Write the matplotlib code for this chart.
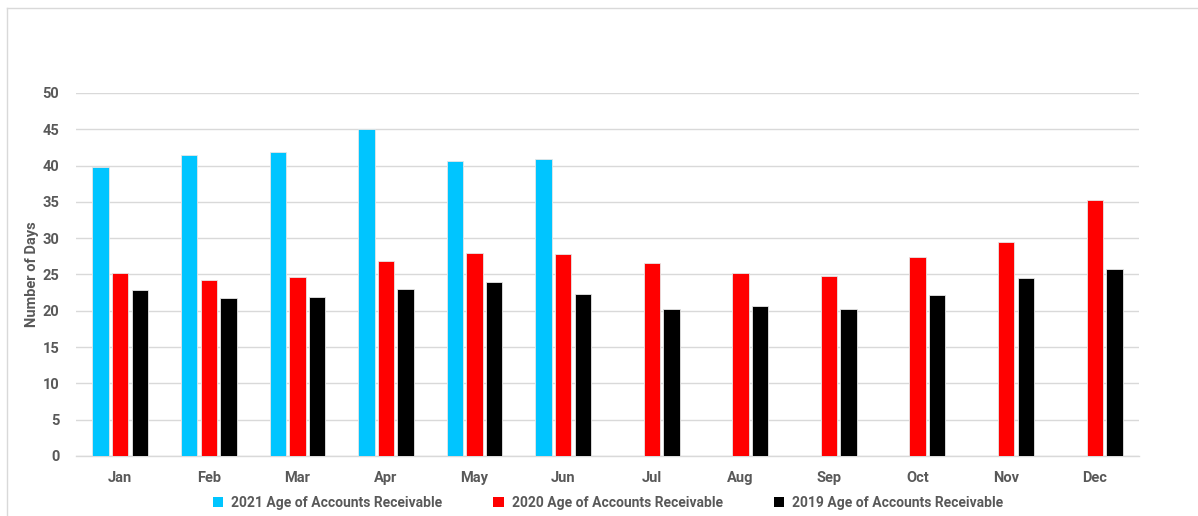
import numpy as np
import matplotlib
matplotlib.use("Agg")
import matplotlib.pyplot as plt
from matplotlib.lines import Line2D
from matplotlib.patches import Patch

months = ["Jan", "Feb", "Mar", "Apr", "May", "Jun",
          "Jul", "Aug", "Sep", "Oct", "Nov", "Dec"]
ar_2021 = [39.8, 41.5, 41.9, 45.0, 40.6, 40.9,
           np.nan, np.nan, np.nan, np.nan, np.nan, np.nan]
ar_2020 = [25.2, 24.3, 24.7, 26.8, 27.9, 27.8, 26.6, 25.2, 24.8, 27.4, 29.5, 35.3]
ar_2019 = [22.8, 21.7, 21.9, 23.0, 23.9, 22.3, 20.3, 20.6, 20.2, 22.2, 24.5, 25.7]
series_labels = ["2021 Age of Accounts Receivable",
                 "2020 Age of Accounts Receivable",
                 "2019 Age of Accounts Receivable"]
series_colors = ["#00C5FF", "#FF0000", "#000000"]
yticks = [0, 5, 10, 15, 20, 25, 30, 35, 40, 45, 50]

plt.rcParams["font.family"] = ["Roboto", "DejaVu Sans"]
text_gray = "#595959"

fig = plt.figure(figsize=(11.98, 5.16), dpi=100)
ax = fig.add_axes([0.0634, 0.1163, 0.8874, 0.7035])

x = np.arange(len(months))
width = 0.185
step = 0.222
for i, (vals, col) in enumerate(zip([ar_2021, ar_2020, ar_2019], series_colors)):
    ax.bar(x + (i - 1) * step, vals, width=width, color=col,
           edgecolor="#e6e6e6", linewidth=0.6, zorder=3)

ax.set_xlim(-0.5, len(months) - 0.5)
ax.set_ylim(0, 50)
ax.set_yticks(yticks)
ax.set_yticklabels([str(t) for t in yticks], fontsize=10.5, fontweight="bold",
                   color=text_gray)
ax.set_xticks(x)
ax.set_xticklabels(months, fontsize=10.5, fontweight="bold", color=text_gray)
ax.tick_params(axis="both", length=0)
ax.tick_params(axis="y", pad=12)
ax.tick_params(axis="x", pad=11)
ax.grid(axis="y", color="#d9d9d9", linewidth=1.0, zorder=0)
for s in ["top", "right", "left"]:
    ax.spines[s].set_visible(False)
ax.spines["bottom"].set_color("#d9d9d9")
ax.spines["bottom"].set_linewidth(1.0)
ax.set_ylabel("Number of Days", fontsize=10.5, fontweight="bold", color=text_gray)
ax.yaxis.set_label_coords(-0.0345, 0.5)

handles = [Patch(facecolor=c, edgecolor="none") for c in series_colors]
leg = fig.legend(handles, series_labels, loc="center", bbox_to_anchor=(0.5075, 0.025),
                 ncol=3, frameon=False, handlelength=0.75,
                 handleheight=0.75, handletextpad=0.6, columnspacing=3.65,
                 labelcolor=text_gray, prop={"weight": "bold", "size": 10})

# chart frame lines along the left and top edges
fig.add_artist(Line2D([6.5 / 1198, 6.5 / 1198], [0, 1 - 7.5 / 516],
                      transform=fig.transFigure, color="#d9d9d9", linewidth=1.0))
fig.add_artist(Line2D([6.5 / 1198, 1], [1 - 7.5 / 516, 1 - 7.5 / 516],
                      transform=fig.transFigure, color="#d9d9d9", linewidth=1.0))

fig.savefig("out.png", dpi=100, facecolor="white")
